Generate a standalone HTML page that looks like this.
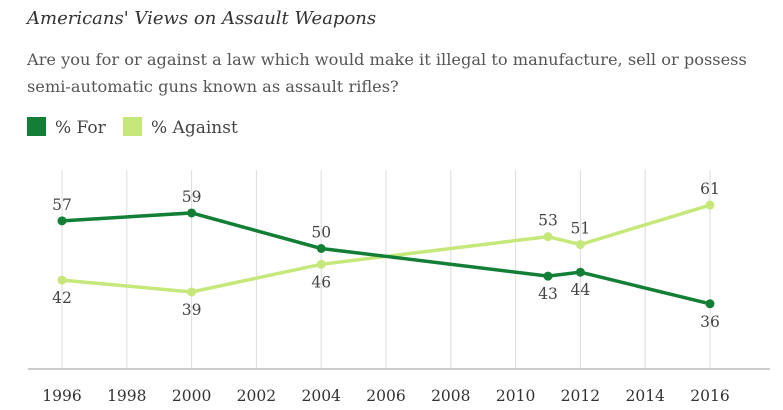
<!DOCTYPE html>
<html><head><meta charset="utf-8"><style>
body{margin:0;background:#fff;width:783px;height:410px;overflow:hidden;font-family:"DejaVu Serif",serif;}
.t{position:absolute;left:27px;top:8px;font-style:italic;font-size:18px;color:#333;white-space:nowrap;}
.s{position:absolute;left:27px;top:46px;font-size:16.2px;color:#555;line-height:27px;white-space:nowrap;}
.lg{position:absolute;top:117px;font-size:17px;color:#444;white-space:nowrap;}
.sw{display:inline-block;width:19px;height:19px;vertical-align:-3px;margin-right:9px;}
</style></head><body>
<div class="t">Americans' Views on Assault Weapons</div>
<div class="s">Are you for or against a law which would make it illegal to manufacture, sell or possess<br>semi-automatic guns known as assault rifles?</div>
<div class="lg" style="left:27px"><span class="sw" style="background:#137f36"></span>% For</div>
<div class="lg" style="left:123px"><span class="sw" style="background:#c6e87a"></span>% Against</div>
<svg id="c" width="783" height="410" style="position:absolute;left:0;top:0"></svg>
<script>
const tickYears=[1996,1998,2000,2002,2004,2006,2008,2010,2012,2014,2016];
const years=[1996,2000,2004,2011,2012,2016];
const forVals=[57,59,50,43,44,36];
const againstVals=[42,39,46,53,51,61];
const svg=document.getElementById('c');
const NS='http://www.w3.org/2000/svg';
const x=y=>62+(y-1996)*32.4;
const yv=v=>446-3.95*v;
function mk(t,a){const e=document.createElementNS(NS,t);for(const k in a)e.setAttribute(k,a[k]);svg.appendChild(e);return e;}
tickYears.forEach(t=>{
 const g=mk('line',{x1:x(t),x2:x(t),y1:170,y2:369,stroke:'#ddd','stroke-width':1});
 
 
 const l=mk('text',{x:x(t),y:401,'text-anchor':'middle','font-size':15.5,fill:'#333','font-family':'DejaVu Serif'});
 l.textContent=t;
 
 
});
const ax=mk('line',{x1:28,x2:770,y1:369,y2:369,stroke:'#ccc','stroke-width':2});


function series(vals,col,name,above){
 const p=mk('polyline',{points:vals.map((v,i)=>x(years[i])+','+yv(v)).join(' '),fill:'none',stroke:col,'stroke-width':3.5});
 
 
 vals.forEach((v,i)=>{
  const c=mk('circle',{cx:x(years[i]),cy:yv(v),r:4.5,fill:col});
  
  
  const up=above[i];
  const t=mk('text',{x:x(years[i]),y:up?yv(v)-11:yv(v)+23,'text-anchor':'middle','font-size':15.5,fill:'#444','font-family':'DejaVu Serif'});
  t.textContent=v;
  
  
 });
}
series(againstVals,'#c6e87a','against',[false,false,false,true,true,true]);
series(forVals,'#137f36','for',[true,true,true,false,false,false]);
</script>
</body></html>
